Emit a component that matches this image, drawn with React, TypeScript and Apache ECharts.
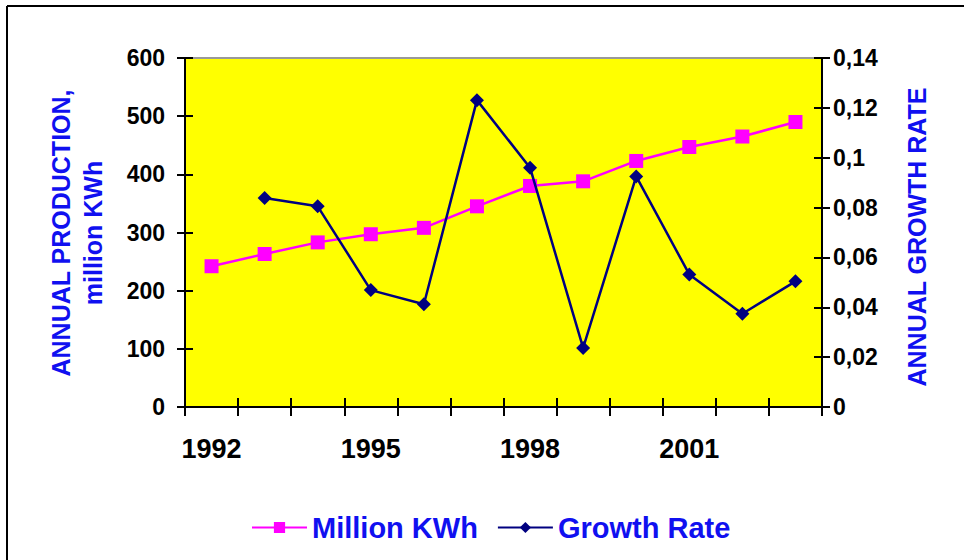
import React, { useEffect, useRef } from "react";
import * as echarts from "echarts";

const years = ["1992", "1993", "1994", "1995", "1996", "1997", "1998", "1999", "2000", "2001", "2002", "2003"];
const millionKWh = [242, 263, 283, 297, 308, 345, 380, 388, 423, 447, 465, 490];
const growthRate = [null, 0.0838, 0.0805, 0.0469, 0.0412, 0.1231, 0.096, 0.0237, 0.0925, 0.0532, 0.0374, 0.0504];
const leftAxisName = "ANNUAL PRODUCTION,\nmillion KWh";
const rightAxisName = "ANNUAL GROWTH RATE";

const FONT = "'Liberation Sans', Arial, sans-serif";
const BLUE = "#1010F0";

export default function App() {
  const ref = useRef<HTMLDivElement>(null);
  useEffect(() => {
    document.body.style.margin = "0";
    const chart = echarts.init(ref.current!, null, { renderer: "svg" });
    const fmtRight = (v: number) => Number(v.toFixed(4)).toString().replace(".", ",");
    const xBase = {
      type: "category" as const,
      data: years,
      boundaryGap: true,
      position: "bottom" as const,
    };
    chart.setOption({
      animation: false,
      backgroundColor: "#ffffff",
      grid: {
        left: 185,
        right: 142,
        top: 58,
        bottom: 153,
        show: true,
        backgroundColor: "#FFFF00",
        borderColor: "#999999",
        borderWidth: 2,
      },
      legend: {
        left: 246,
        top: 508,
        itemWidth: 55,
        itemHeight: 14,
        itemGap: 19,
        textStyle: { color: BLUE, fontSize: 29, fontWeight: "bold", fontFamily: FONT },
        data: ["Million KWh", "Growth Rate"],
      },
      xAxis: [
        {
          ...xBase,
          axisLine: { show: true, lineStyle: { color: "#000", width: 2 } },
          axisTick: { show: true, interval: 0, length: 9, lineStyle: { color: "#000", width: 2 } },
          axisLabel: {
            interval: 2,
            margin: 28,
            color: "#000",
            fontSize: 27,
            fontWeight: "bold",
            fontFamily: FONT,
          },
          splitLine: { show: false },
        },
        {
          ...xBase,
          axisLine: { show: false },
          axisTick: { show: true, inside: true, interval: 0, length: 9, lineStyle: { color: "#000", width: 2 } },
          axisLabel: { show: false },
          splitLine: { show: false },
        },
      ],
      yAxis: [
        {
          type: "value",
          min: 0,
          max: 600,
          interval: 100,
          position: "left",
          axisLine: { show: true, lineStyle: { color: "#000", width: 2 } },
          axisTick: { show: true, length: 8, lineStyle: { color: "#000", width: 2 } },
          axisLabel: { margin: 20, color: "#000", fontSize: 23, fontWeight: "bold", fontFamily: FONT },
          splitLine: { show: false },
        },
        {
          type: "value",
          min: 0,
          max: 0.14,
          interval: 0.02,
          position: "right",
          axisLine: { show: true, lineStyle: { color: "#000", width: 2 } },
          axisTick: { show: true, length: 8, lineStyle: { color: "#000", width: 2 } },
          axisLabel: {
            margin: 11,
            color: "#000",
            fontSize: 23,
            fontWeight: "bold",
            fontFamily: FONT,
            formatter: fmtRight,
          },
          splitLine: { show: false },
        },
        {
          type: "value",
          min: 0,
          max: 600,
          interval: 100,
          position: "left",
          axisLine: { show: false },
          axisTick: { show: true, inside: true, length: 8, lineStyle: { color: "#000", width: 2 } },
          axisLabel: { show: false },
          splitLine: { show: false },
        },
        {
          type: "value",
          min: 0,
          max: 0.14,
          interval: 0.02,
          position: "right",
          axisLine: { show: false },
          axisTick: { show: true, inside: true, length: 8, lineStyle: { color: "#000", width: 2 } },
          axisLabel: { show: false },
          splitLine: { show: false },
        },
      ],
      series: [
        {
          name: "Million KWh",
          type: "line",
          data: millionKWh,
          xAxisIndex: 0,
          yAxisIndex: 0,
          symbol: "rect",
          symbolSize: 14,
          itemStyle: { color: "#FF00FF" },
          lineStyle: { color: "#FF00FF", width: 2.5 },
          z: 3,
        },
        {
          name: "Growth Rate",
          type: "line",
          data: growthRate,
          xAxisIndex: 0,
          yAxisIndex: 1,
          symbol: "diamond",
          symbolSize: 14,
          connectNulls: false,
          itemStyle: { color: "#000080" },
          lineStyle: { color: "#000080", width: 2.5 },
          z: 4,
        },
      ],
      graphic: [
        {
          type: "line",
          shape: { x1: 7, y1: 6, x2: 964, y2: 6 },
          style: { stroke: "#000", lineWidth: 2 },
        },
        {
          type: "line",
          shape: { x1: 7, y1: 6, x2: 7, y2: 560 },
          style: { stroke: "#000", lineWidth: 2 },
        },
        {
          type: "text",
          x: 77,
          y: 233,
          rotation: Math.PI / 2,
          style: {
            text: leftAxisName,
            fill: BLUE,
            font: `bold 25px ${FONT}`,
            align: "center",
            verticalAlign: "middle",
            lineHeight: 32,
          },
        },
        {
          type: "text",
          x: 917,
          y: 237,
          rotation: Math.PI / 2,
          style: {
            text: rightAxisName,
            fill: BLUE,
            font: `bold 25px ${FONT}`,
            align: "center",
            verticalAlign: "middle",
          },
        },
      ],
    });
    return () => chart.dispose();
  }, []);
  return <div ref={ref} style={{ width: 964, height: 560 }} />;
}
